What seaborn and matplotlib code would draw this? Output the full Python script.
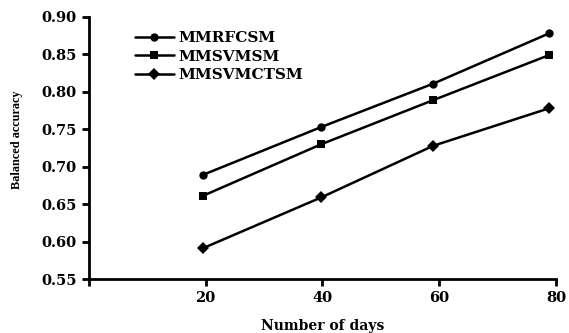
import pandas as pd
import matplotlib
matplotlib.use("Agg")
import matplotlib.pyplot as plt
import seaborn as sns

# values
days = [19.5, 39.8, 59, 78.8]
mmrfcsm = [0.689, 0.753, 0.811, 0.878]
mmsvmsm = [0.661, 0.730, 0.789, 0.849]
mmsvmctsm = [0.591, 0.659, 0.728, 0.778]
methods = ["MMRFCSM", "MMSVMSM", "MMSVMCTSM"]
x_ticks = [20, 40, 60, 80]
y_ticks = [0.55, 0.60, 0.65, 0.70, 0.75, 0.80, 0.85, 0.90]

df = pd.DataFrame({
    "days": days * 3,
    "acc": mmrfcsm + mmsvmsm + mmsvmctsm,
    "method": [m for m in methods for _ in days],
})

sns.set_style("ticks")
plt.rcParams["font.family"] = ["DejaVu Serif"]
plt.rcParams["font.weight"] = "bold"
plt.rcParams["axes.edgecolor"] = "black"
plt.rcParams["xtick.color"] = "black"
plt.rcParams["ytick.color"] = "black"
plt.rcParams["text.color"] = "black"

fig = plt.figure(figsize=(5.69, 3.33), dpi=100)
ax = fig.add_axes([0.156, 0.162, 0.821, 0.787])

sns.lineplot(data=df, x="days", y="acc", style="method", hue="method",
             palette=["black"] * 3, markers={"MMRFCSM": "o", "MMSVMSM": "s", "MMSVMCTSM": "D"},
             dashes=False, markersize=6, linewidth=1.8, markeredgewidth=0, ax=ax)

ax.set_xlim(0, 80)
ax.set_ylim(0.55, 0.90)
ax.set_xticks([0] + x_ticks)
ax.set_xticklabels([""] + [str(t) for t in x_ticks])
ax.set_yticks(y_ticks)
ax.set_yticklabels([f"{t:.2f}" for t in y_ticks])
ax.tick_params(direction="out", length=5, width=2, labelsize=10.5)
for s in ["left", "bottom"]:
    ax.spines[s].set_linewidth(2)
sns.despine(ax=ax)

ax.set_xlabel("Number of days", fontsize=10, labelpad=10, fontweight="bold",
              color="black")
ax.set_ylabel("Balanced accuracy", fontsize=8.8, labelpad=13,
              family="Liberation Serif", fontweight="bold", color="black")
ax.yaxis.label.set_y(0.53)

handles, labels = ax.get_legend_handles_labels()
for h in handles:
    h.set_markersize(6)
ax.legend(handles, labels, loc="upper left", bbox_to_anchor=(0.085, 0.97), frameon=False,
          prop={"family": "DejaVu Serif", "weight": "bold", "size": 11},
          labelcolor="black", handlelength=2.6, handletextpad=0.3, labelspacing=0.3,
          borderaxespad=0)

fig.savefig("out.png", dpi=100)
